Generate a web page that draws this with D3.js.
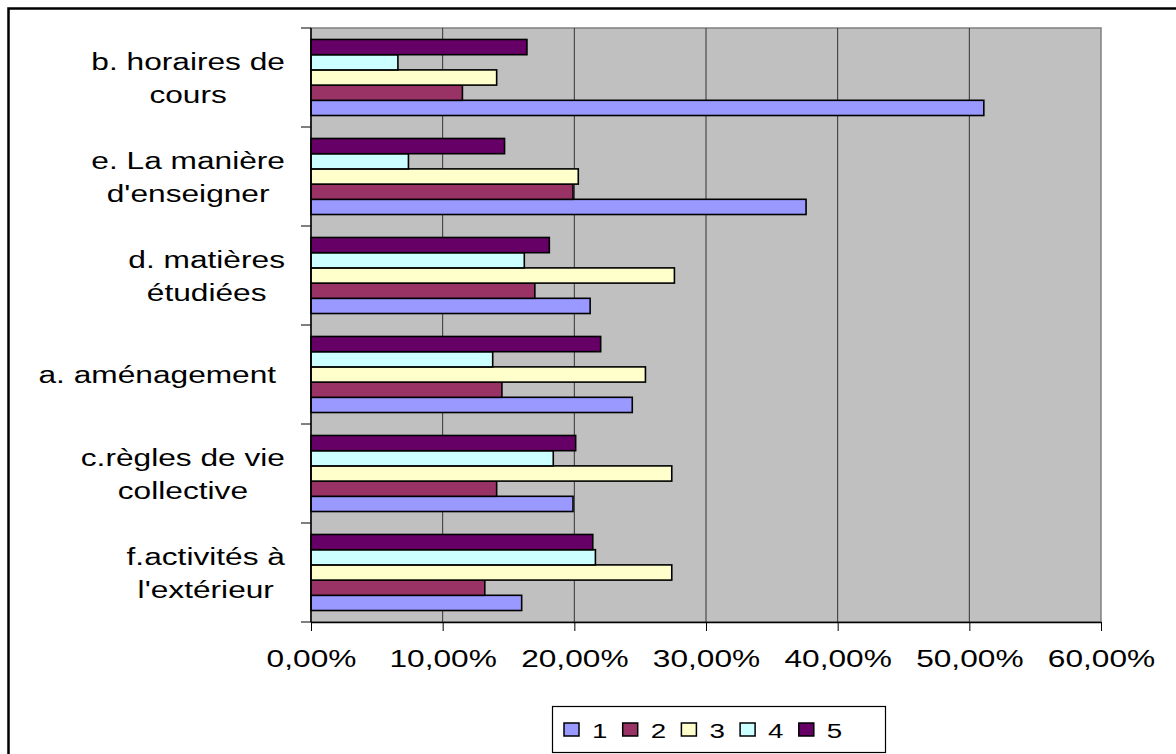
<!DOCTYPE html>
<html>
<head>
<meta charset="utf-8">
<script src="https://cdn.jsdelivr.net/npm/d3@7"></script>
<style>
  body { margin: 0; background: #fff; }
  svg { display: block; font-family: "Liberation Sans", Arial, sans-serif; }
</style>
</head>
<body>
<div id="chart"></div>
<script>
'use strict';

// data (shares, in %)
const categories = [
    ['b. horaires de', 'cours'],
    ['e. La manière', "d'enseigner"],
    ['d. matières', 'étudiées'],
    ['a. aménagement '],
    ['c.règles de vie', 'collective'],
    ["f.activités à", "l'extérieur"]
];
const seriesNames = ['1', '2', '3', '4', '5'];
const serie1 = [51.1, 37.6, 21.2, 24.4, 19.9, 16.0];
const serie2 = [11.5, 19.9, 17.0, 14.5, 14.1, 13.2];
const serie3 = [14.1, 20.3, 27.6, 25.4, 27.4, 27.4];
const serie4 = [6.6, 7.4, 16.2, 13.8, 18.4, 21.6];
const serie5 = [16.4, 14.7, 18.1, 22.0, 20.1, 21.4];
const xTicks = [0, 10, 20, 30, 40, 50, 60];

const settings = {
    width: 1176,
    height: 754,
    elId: '#chart',
};

const plot = { left: 311, right: 1101, top: 28, bottom: 622 };
const sx = 1.32; // horizontal stretch of the text
const colors = ['#9999FF', '#993366', '#FFFFCC', '#CCFFFF', '#660066'];
const allSeries = [serie1, serie2, serie3, serie4, serie5];

const svg = d3.select(settings.elId)
    .append('svg')
    .attr('width', settings.width)
    .attr('height', settings.height);

// outer chart frame
svg.append('rect')
    .attr('x', 8.5).attr('y', 8.5)
    .attr('width', 1300).attr('height', 900)
    .attr('fill', '#fff')
    .attr('stroke', '#000')
    .attr('stroke-width', 2.5);

const x = d3.scaleLinear()
    .domain([0, 60])
    .range([plot.left, plot.right]);

const catIds = d3.range(categories.length);
const y = d3.scaleBand()
    .domain(catIds)
    .range([plot.top, plot.bottom])
    .paddingInner(0.232)
    .paddingOuter(0.116);

// series 5 on top, series 1 at the bottom of each group
const ySub = d3.scaleBand()
    .domain(seriesNames.slice().reverse())
    .range([0, y.bandwidth()]);

// plot area
svg.append('rect')
    .attr('x', plot.left).attr('y', plot.top)
    .attr('width', plot.right - plot.left)
    .attr('height', plot.bottom - plot.top)
    .attr('fill', '#C0C0C0')
    .attr('stroke', '#808080')
    .attr('stroke-width', 1.5);

// vertical gridlines
svg.append('g')
    .selectAll('line')
    .data(xTicks.slice(1, -1))
    .enter()
    .append('line')
    .attr('x1', d => x(d)).attr('x2', d => x(d))
    .attr('y1', plot.top).attr('y2', plot.bottom)
    .attr('stroke', '#333')
    .attr('stroke-width', 1);

// bars
const rows = [];
catIds.forEach(c => {
    seriesNames.forEach((s, k) => {
        rows.push({ cat: c, serie: s, k: k, value: allSeries[k][c] });
    });
});

svg.append('g')
    .selectAll('rect')
    .data(rows)
    .enter()
    .append('rect')
    .attr('x', x(0))
    .attr('y', d => y(d.cat) + ySub(d.serie))
    .attr('width', d => x(d.value) - x(0))
    .attr('height', ySub.bandwidth())
    .attr('fill', d => colors[d.k])
    .attr('stroke', '#000')
    .attr('stroke-width', 1.6);

// x axis
const fmt = v => d3.format('.2f')(v).replace('.', ',') + '%';
const xAxis = svg.append('g')
    .attr('transform', `translate(0,${plot.bottom})`)
    .call(d3.axisBottom(x).tickValues(xTicks).tickFormat(fmt).tickSize(9).tickSizeOuter(0));
xAxis.select('.domain').attr('stroke', '#000').attr('stroke-width', 1.5);
xAxis.selectAll('.tick line').attr('stroke', '#000');
xAxis.selectAll('.tick text')
    .attr('font-family', '"Liberation Sans", Arial, sans-serif')
    .attr('font-size', 24)
    .attr('fill', '#000')
    .attr('y', 45)
    .attr('dy', 0)
    .attr('transform', `scale(${sx},1)`);

// y axis line and ticks at group boundaries
svg.append('line')
    .attr('x1', plot.left).attr('x2', plot.left)
    .attr('y1', plot.top).attr('y2', plot.bottom)
    .attr('stroke', '#000').attr('stroke-width', 1.5);

const step = y.step();
svg.append('g')
    .selectAll('line')
    .data(d3.range(categories.length + 1))
    .enter()
    .append('line')
    .attr('x1', plot.left - 10).attr('x2', plot.left)
    .attr('y1', i => plot.top + i * step)
    .attr('y2', i => plot.top + i * step)
    .attr('stroke', '#000');

// category labels: block right aligned, lines centred inside the block
const lh = 33;
const labelGroup = svg.append('g');
categories.forEach((lines, c) => {
    const cy = y(c) + y.bandwidth() / 2;
    const texts = lines.map((t, i) => labelGroup.append('text')
        .text(t)
        .attr('font-size', 24)
        .attr('text-anchor', 'middle')
        .attr('fill', '#000')
        .style('white-space', 'pre')
        .attr('data-y', cy + (i - (lines.length - 1) / 2) * lh + 8.5));
    const maxW = d3.max(texts, t => t.node().getComputedTextLength()) * sx;
    const cx = 285 - maxW / 2;
    texts.forEach(t => t.attr('transform', `translate(${cx},${t.attr('data-y')}) scale(${sx},1)`));
});

// legend
const legend = svg.append('g');
legend.append('rect')
    .attr('x', 552.5).attr('y', 706.5)
    .attr('width', 333).attr('height', 46)
    .attr('fill', '#fff')
    .attr('stroke', '#000')
    .attr('stroke-width', 1.2);

const items = legend.selectAll('g')
    .data(seriesNames)
    .enter()
    .append('g')
    .attr('transform', (d, i) => `translate(${564 + i * 58.7},723)`);
items.append('rect')
    .attr('width', 15).attr('height', 13)
    .attr('fill', (d, i) => colors[i])
    .attr('stroke', '#000')
    .attr('stroke-width', 1.5);
items.append('text')
    .text(d => d)
    .attr('font-size', 21)
    .attr('fill', '#000')
    .attr('transform', `translate(28,14.5) scale(${sx},1)`);
</script>
</body>
</html>
